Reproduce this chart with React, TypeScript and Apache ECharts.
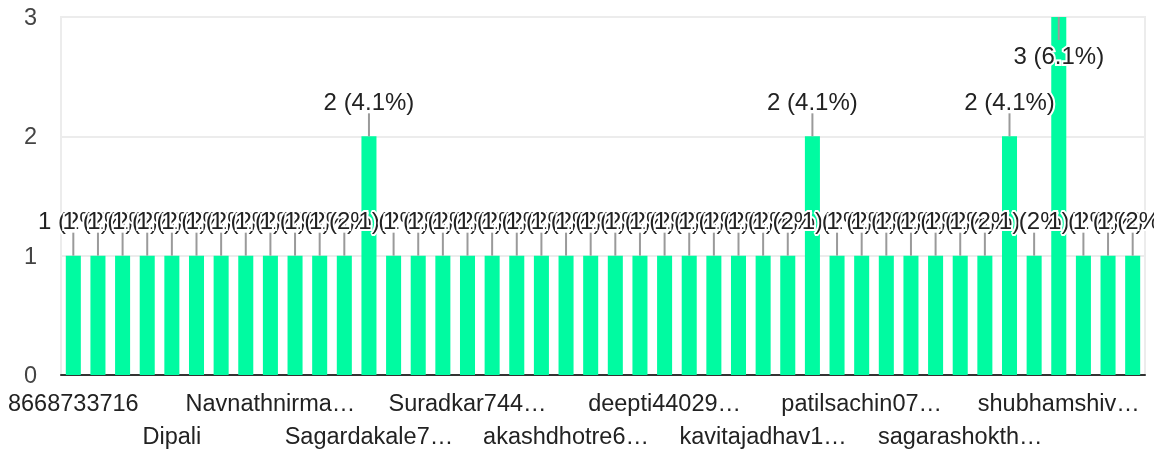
import React, { useEffect, useRef } from "react";
import * as echarts from "echarts";

// 44 respondents (only every fourth name is readable on the axis)
const tickLabels = [
  "8668733716",
  "Dipali",
  "Navnathnirma…",
  "Sagardakale7…",
  "Suradkar744…",
  "akashdhotre6…",
  "deepti44029…",
  "kavitajadhav1…",
  "patilsachin07…",
  "sagarashokth…",
  "shubhamshiv…",
];
const values = [
  1, 1, 1, 1, 1, 1, 1, 1, 1, 1, 1, 1, 2, 1, 1, 1, 1, 1, 1, 1, 1, 1,
  1, 1, 1, 1, 1, 1, 1, 1, 2, 1, 1, 1, 1, 1, 1, 1, 2, 1, 3, 1, 1, 1,
];
const categories = values.map((_, i) => `#${i + 1}`);
const yTicks = [0, 1, 2, 3];

const total = values.reduce((a, b) => a + b, 0);
const fmtLabel = (v: number) => `${v} (${+((v / total) * 100).toFixed(1)}%)`;

const FONT = '"Liberation Sans", Arial, sans-serif';

export default function App() {
  const ref = useRef<HTMLDivElement>(null);
  useEffect(() => {
    if (!ref.current) return;
    const chart = echarts.init(ref.current, undefined, { renderer: "svg" });
    const yMax = yTicks[yTicks.length - 1];
    chart.setOption({
      animation: false,
      grid: {
        left: 61,
        right: 9,
        top: 17,
        bottom: 75,
        show: true,
        borderColor: "#ececec",
        borderWidth: 2,
        containLabel: false,
        outerBoundsMode: "none",
      },
      xAxis: {
        type: "category",
        data: categories,
        boundaryGap: true,
        axisLine: { show: true, lineStyle: { color: "#333", width: 2 } },
        axisTick: { show: false },
        splitLine: { show: false },
        axisLabel: {
          interval: 0,
          margin: 11,
          color: "#222",
          fontSize: 23.5,
          fontFamily: FONT,
          lineHeight: 33,
          formatter: (_: string, i: number) => {
            if (i % 4 !== 0) return "";
            const k = i / 4;
            const t = tickLabels[k] ?? "";
            return k % 2 === 1 ? "\n" + t : t;
          },
        },
      },
      yAxis: {
        type: "value",
        min: 0,
        max: yMax,
        interval: 1,
        axisLine: { show: false },
        axisTick: { show: false },
        splitLine: { show: true, lineStyle: { color: "#ececec", width: 2 } },
        axisLabel: {
          margin: 24,
          color: "#444",
          fontSize: 23.5,
          fontFamily: FONT,
        },
      },
      series: [
        {
          type: "bar",
          data: values,
          barCategoryGap: "39%",
          itemStyle: { color: "#00fba1" },
        },
        {
          type: "custom",
          data: values.map((v, i) => [i, v]),
          encode: { x: 0, y: 1 },
          z: 10,
          clip: false,
          renderItem: (params: any, api: any) => {
            const v = api.value(1);
            const pt = api.coord([api.value(0), v]);
            const x = pt[0];
            const top = pt[1];
            const atMax = v >= yMax;
            const y1 = atMax ? top : top - 23;
            const y2 = atMax ? top + 23 : top;
            const ty = atMax ? top + 38 : top - 35;
            return {
              type: "group",
              children: [
                {
                  type: "line",
                  shape: { x1: x, y1, x2: x, y2 },
                  style: { stroke: "#9a9a9a", lineWidth: 2 },
                },
                {
                  type: "text",
                  x,
                  y: ty,
                  style: {
                    text: fmtLabel(values[params.dataIndex]),
                    align: "center",
                    verticalAlign: "middle",
                    textAlign: "center",
                    textVerticalAlign: "middle",
                    fill: "#222",
                    stroke: "#fff",
                    lineWidth: 4,
                    font: `24px ${FONT}`,
                  },
                },
              ],
            };
          },
        },
      ],
    });
    return () => chart.dispose();
  }, []);
  return (
    <div
      ref={ref}
      style={{ position: "fixed", left: 0, top: 0, width: 1154, height: 450 }}
    />
  );
}
